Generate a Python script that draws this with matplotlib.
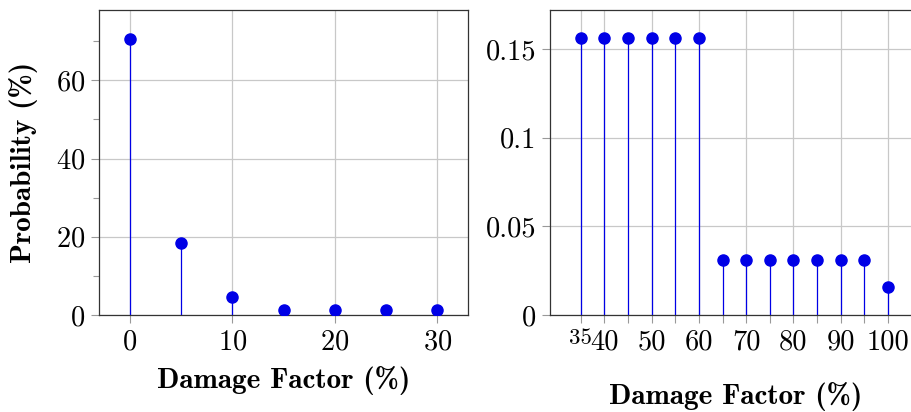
import matplotlib
matplotlib.use("Agg")
import matplotlib.pyplot as plt
from matplotlib.ticker import FixedLocator

# Dados
dmg_left = [0, 5, 10, 15, 20, 25, 30]
prob_left = [70.7, 18.4, 4.6, 1.3, 1.3, 1.3, 1.3]

dmg_right = [35, 40, 45, 50, 55, 60, 65, 70, 75, 80, 85, 90, 95, 100]
prob_right = [0.15625] * 6 + [0.03125] * 7 + [0.015625]

xticks_right = [35, 40, 50, 60, 70, 80, 90, 100]
xlabels_right = ["35", "40", "50", "60", "70", "80", "90", "100"]
xminor_right = [45, 55, 65, 75, 85, 95, 105]

plt.rcParams["font.family"] = "cmr10"
plt.rcParams["mathtext.fontset"] = "cm"
plt.rcParams["axes.unicode_minus"] = False
plt.rcParams["axes.formatter.use_mathtext"] = True

FS = 20.5
LFS = 21
BLUE = "#0000e6"
GRID = "#c8c8c8"

fig = plt.figure(figsize=(9.12, 4.12), dpi=100)
ax1 = fig.add_axes([99 / 912, 1 - 315 / 412, (468 - 99) / 912, 305 / 412])
ax2 = fig.add_axes([550 / 912, 1 - 315 / 412, 371 / 912, 305 / 412])


def style(ax):
    ax.grid(True, which="major", color=GRID, linewidth=0.9)
    ax.set_axisbelow(True)
    for s in ax.spines.values():
        s.set_linewidth(0.9)
        s.set_color("#333333")
    ax.tick_params(which="both", direction="out", color="#999999",
                   labelsize=FS, top=False, right=False)
    ax.tick_params(which="both", length=6, width=0.8)
    ax.tick_params(which="major", pad=4)


def stems(ax, xs, ys):
    ax.vlines(xs, 0, ys, colors=BLUE, linewidth=0.9, zorder=3)
    ax.plot(xs, ys, "o", color=BLUE, markersize=8, zorder=4)


# Esquerda
stems(ax1, dmg_left, prob_left)
style(ax1)
ax1.set_xlim(-3, 33)
ax1.set_ylim(0, 78)
ax1.xaxis.set_major_locator(FixedLocator([0, 10, 20, 30]))
ax1.yaxis.set_major_locator(FixedLocator([0, 20, 40, 60]))
ax1.yaxis.set_minor_locator(FixedLocator([10, 30, 50, 70]))
ax1.tick_params(axis="y", which="minor", length=4)
ax1.set_xlabel("Damage Factor (%)", fontsize=LFS, fontfamily="cmb10", labelpad=8)
ax1.set_ylabel("Probability (%)", fontsize=LFS, fontfamily="cmb10", labelpad=13)

# Direita
stems(ax2, dmg_right, prob_right)
style(ax2)
ax2.set_xlim(28.5, 107)
ax2.set_ylim(0, 0.172)
ax2.set_xticks(xticks_right)
ax2.set_xticklabels(xlabels_right)
ax2.xaxis.set_minor_locator(FixedLocator(xminor_right))
ax2.get_xticklabels()[0].set_fontsize(16.5)
ax2.set_yticks([0, 0.05, 0.1, 0.15])
ax2.set_yticklabels(["0", "0.05", "0.1", "0.15"])
ax2.set_xlabel("Damage Factor (%)", fontsize=LFS, fontfamily="cmb10", labelpad=19)

fig.savefig("out.png", dpi=100)
